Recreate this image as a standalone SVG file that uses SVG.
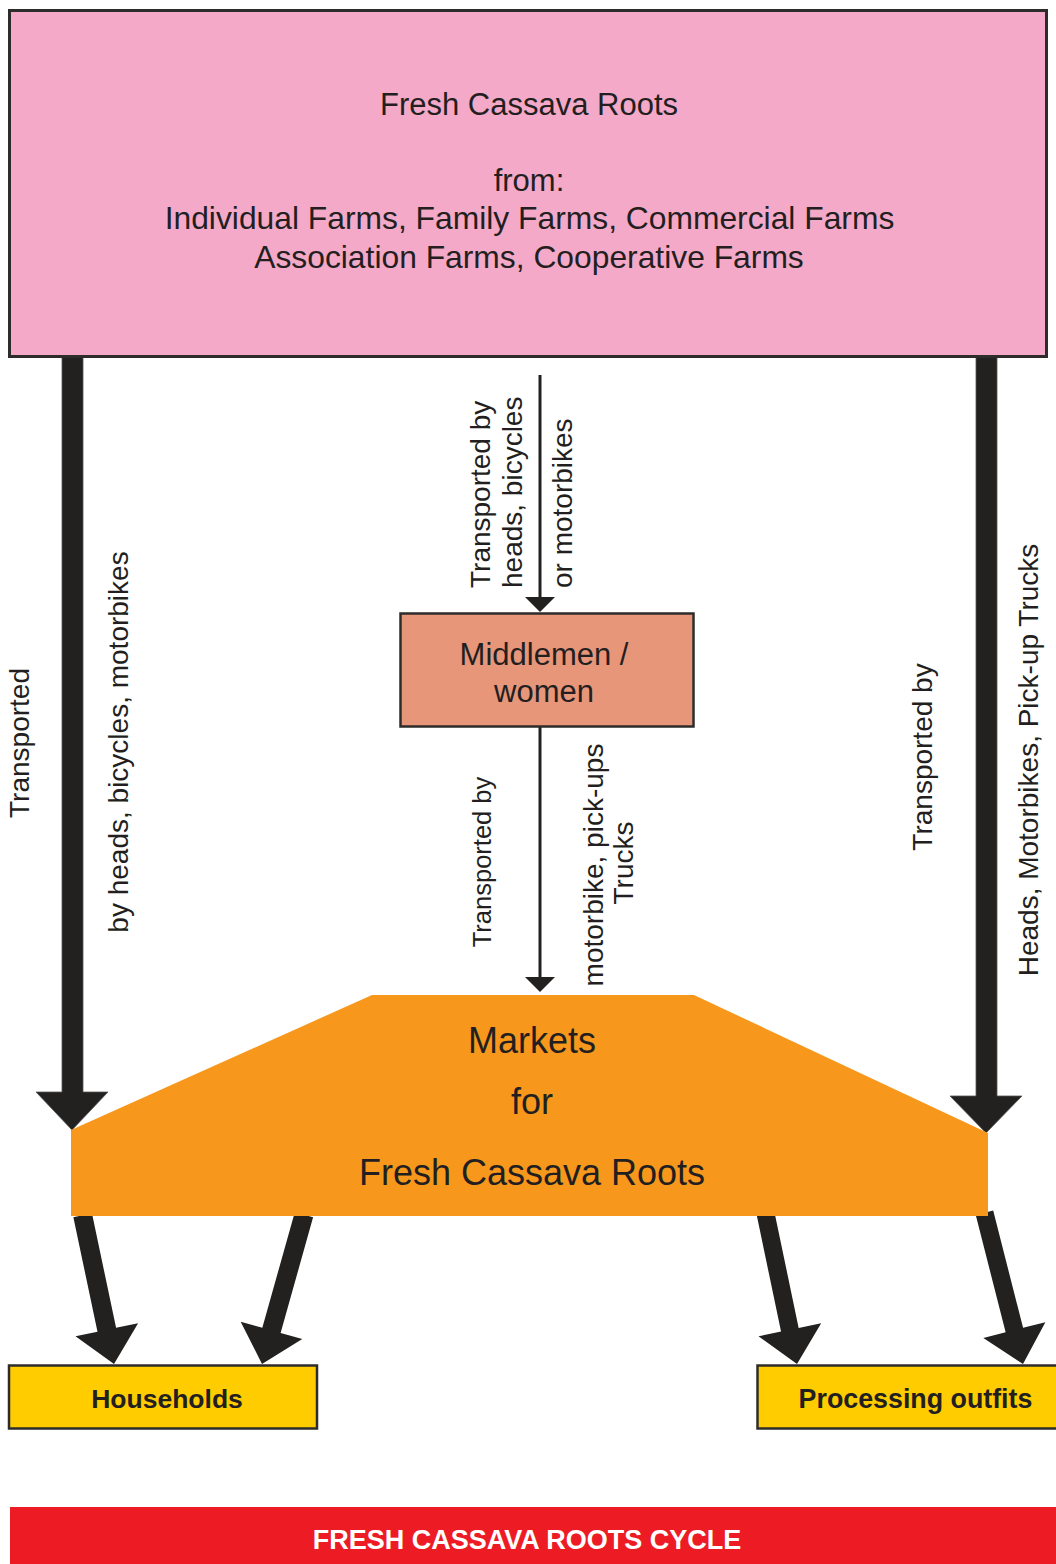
<svg xmlns="http://www.w3.org/2000/svg" width="1056" height="1564" viewBox="0 0 1056 1564">
<style>
.t{font-family:"Liberation Sans",Arial,sans-serif;fill:#231F20}
.b{font-family:"Liberation Sans",Arial,sans-serif;font-weight:bold;fill:#231F20}
.thick{fill:#22211F;stroke:#555;stroke-width:0.8}
.thin{stroke:#22211F;stroke-width:3;fill:none}
.head{fill:#22211F}
</style>
<rect width="1056" height="1564" fill="#fff"/>

<g id="connectors">
  <!-- left thick arrow -->
  <path class="thick" d="M62 356 L83 356 L83 1092 L108 1092 L72 1130 L36 1092 L62 1092 Z"/>
  <!-- right thick arrow -->
  <path class="thick" d="M976 356 L997 356 L997 1096 L1022 1096 L986 1133 L950 1096 L976 1096 Z"/>
  <!-- middle thin arrows -->
  <line class="thin" x1="540" y1="375" x2="540" y2="600"/>
  <polygon class="head" points="525,597 555,597 540,612"/>
  <line class="thin" x1="540" y1="727" x2="540" y2="980"/>
  <polygon class="head" points="525,977 555,977 540,992"/>
  <!-- bottom diagonal arrows -->
  <g class="head">
    <path transform="translate(114,1364) rotate(-11.9)" d="M -9.5 -152 L 9.5 -152 L 9.5 -35 L 32 -35 L 0 0 L -32 -35 L -9.5 -35 Z"/>
    <path transform="translate(262,1364) rotate(15.7)" d="M -9.5 -155 L 9.5 -155 L 9.5 -35 L 32 -35 L 0 0 L -32 -35 L -9.5 -35 Z"/>
    <path transform="translate(797,1364) rotate(-11.8)" d="M -9 -154 L 9 -154 L 9 -35 L 32 -35 L 0 0 L -32 -35 L -9 -35 Z"/>
    <path transform="translate(1023,1364) rotate(-14.3)" d="M -9 -156 L 9 -156 L 9 -35 L 32 -35 L 0 0 L -32 -35 L -9 -35 Z"/>
  </g>
  <!-- labels -->
  <text class="t" font-size="28" text-anchor="middle" transform="translate(29,743) rotate(-90)">Transported</text>
  <text class="t" font-size="28" text-anchor="middle" transform="translate(128,742) rotate(-90)">by heads, bicycles, motorbikes</text>
  <text class="t" font-size="28" text-anchor="start" transform="translate(490,588) rotate(-90)">Transported by</text>
  <text class="t" font-size="28" text-anchor="start" transform="translate(522,588) rotate(-90)">heads, bicycles</text>
  <text class="t" font-size="28" text-anchor="start" transform="translate(572,588) rotate(-90)">or motorbikes</text>
  <text class="t" font-size="25.5" text-anchor="middle" transform="translate(491,862) rotate(-90)">Transported by</text>
  <text class="t" font-size="28" text-anchor="middle" transform="translate(603,865) rotate(-90)">motorbike, pick-ups</text>
  <text class="t" font-size="28" text-anchor="middle" transform="translate(633,863) rotate(-90)">Trucks</text>
  <text class="t" font-size="28" text-anchor="middle" transform="translate(932,757) rotate(-90)">Transported by</text>
  <text class="t" font-size="28" text-anchor="middle" transform="translate(1038,760) rotate(-90)">Heads, Motorbikes, Pick-up Trucks</text>
</g>

<g id="source">
  <rect x="9.5" y="10.5" width="1037" height="346" fill="#F5A9C8" stroke="#2E2C2B" stroke-width="3"/>
  <g class="t" font-size="31" text-anchor="middle">
    <text x="529" y="115">Fresh Cassava Roots</text>
    <text x="529" y="191">from:</text>
    <text x="529.5" y="229" font-size="31.8">Individual Farms, Family Farms, Commercial Farms</text>
    <text x="529" y="268" font-size="31.8">Association Farms, Cooperative Farms</text>
  </g>
</g>

<g id="middlemen">
  <rect x="400.5" y="613.5" width="293" height="113" fill="#E8967A" stroke="#2E2C2B" stroke-width="2.5"/>
  <g class="t" font-size="31" text-anchor="middle">
    <text x="544" y="665">Middlemen /</text>
    <text x="544" y="702">women</text>
  </g>
</g>

<g id="markets">
  <polygon points="71,1130 372,995 694,995 988,1133 988,1216 71,1216" fill="#F7981D"/>
  <g class="t" font-size="36" text-anchor="middle">
    <text x="532" y="1053">Markets</text>
    <text x="532" y="1114">for</text>
    <text x="532" y="1185">Fresh Cassava Roots</text>
  </g>
</g>

<g id="households">
  <rect x="9" y="1365.5" width="308" height="63" fill="#FFCC00" stroke="#2E2C2B" stroke-width="2.5"/>
  <text class="b" font-size="26.5" text-anchor="middle" x="167" y="1408">Households</text>
</g>

<g id="processing">
  <rect x="757.5" y="1365.5" width="310" height="63" fill="#FFCC00" stroke="#2E2C2B" stroke-width="2.5"/>
  <text class="b" font-size="26.8" text-anchor="middle" x="915.5" y="1408">Processing outfits</text>
</g>

<g id="title">
  <rect x="10" y="1507" width="1046" height="57" fill="#ED1C24"/>
  <text class="b" font-size="27" text-anchor="middle" x="527" y="1549" style="fill:#fff">FRESH CASSAVA ROOTS CYCLE</text>
</g>
</svg>
